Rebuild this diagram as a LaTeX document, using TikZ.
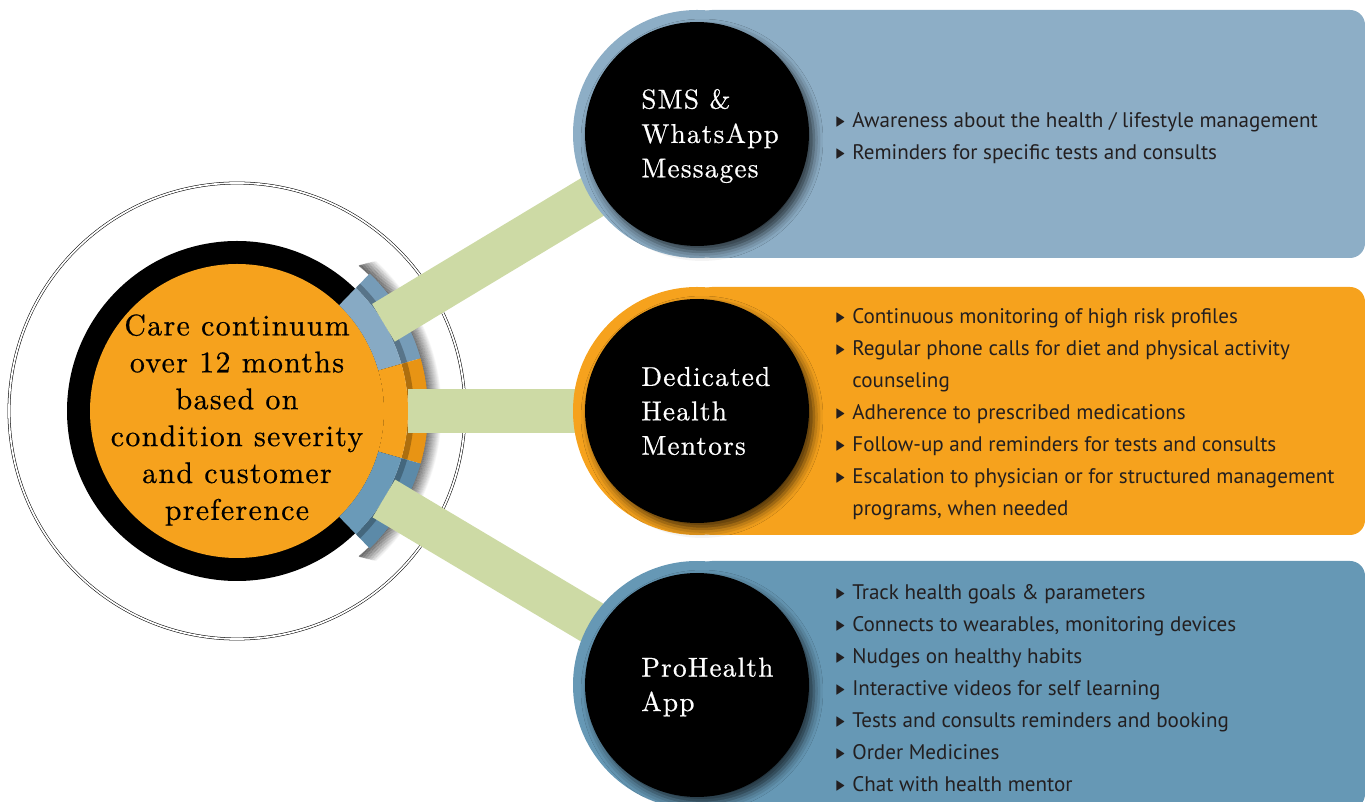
\documentclass[tikz,border=0pt]{standalone}
\usepackage{fontspec}
\usepackage{amssymb}
\usepackage{graphicx}
\usetikzlibrary{shadows.blur}

\newfontfamily\listfont{PT Sans}
\newfontfamily\circfont{lmroman10-regular.otf}[LetterSpace=4.5, FakeBold=0.6]

\definecolor{skyblue}{RGB}{141,174,198}
\definecolor{steelblue}{RGB}{102,152,181}
\definecolor{amber}{RGB}{246,162,29}
\definecolor{ambout}{RGB}{232,148,20}
\definecolor{sage}{RGB}{205,218,165}
\definecolor{ringtop}{RGB}{135,170,196}
\definecolor{ringtopout}{RGB}{118,156,184}
\definecolor{ringbot}{RGB}{106,154,184}
\definecolor{ringbotout}{RGB}{92,138,168}
\definecolor{listtext}{RGB}{35,31,32}

\newcommand{\itm}[1]{\makebox[0.34cm][l]{\raisebox{0.05ex}{\scalebox{0.62}[0.85]{$\blacktriangleright$}}}#1}
\newcommand{\cnt}[1]{\hspace*{0.34cm}#1}

\tikzset{
  bubble/.style={circle, fill=black, minimum size=4.48cm, inner sep=0pt,
    blur shadow={shadow xshift=0.1cm, shadow yshift=-0.12cm, shadow blur radius=0.18cm, shadow opacity=70}},
  bubbletext/.style={text=white, align=left, anchor=west, inner sep=0pt,
    font=\circfont\fontsize{15.5}{19.6}\selectfont},
  itemlist/.style={text=listtext, align=left, anchor=north west, inner sep=0pt,
    font=\listfont\fontsize{12}{18.2}\selectfont},
  bar/.style={sage, line width=0.88cm, shorten <=3.42cm}
}

\begin{document}
\begin{tikzpicture}[x=0.02cm, y=0.02cm]
    \useasboundingbox (0,0) rectangle (1365,801);

    % Centres
    \coordinate (cc) at (237,390);
    \coordinate (sms-c) at (697,667);
    \coordinate (hm-c) at (697,390);
    \coordinate (app-c) at (697,116);

    % Central disc
    \draw[double, double distance=0.035cm, line width=0.3pt] (cc) circle[radius=228];
    \fill[black] (cc) circle[radius=170];
    \fill[amber] (cc) circle[radius=147];

    % Ring segments on the right of the disc
    \begin{scope}[shift={(237,390)}]
        \foreach \i [evaluate=\i as \op using 0.5*(1-\i/15)] in {0,...,14}
            \draw[black, opacity=\op, line width=0.024cm] (-50+\i*0.2:190+\i) arc[start angle=-50+\i*0.2, end angle=50-\i*0.2, radius=190+\i];
        \foreach \a/\b/\cin/\cout in {16/46/ringtop/ringtopout, -16/16/amber/ambout, -46/-16/ringbot/ringbotout} {
            \fill[\cout] (\a:171) arc[start angle=\a, end angle=\b, radius=171]
                -- (\b:191) arc[start angle=\b, end angle=\a, radius=191] -- cycle;
            \fill[black, opacity=0.25] (\a:171) arc[start angle=\a, end angle=\b, radius=171]
                -- (\b:177) arc[start angle=\b, end angle=\a, radius=177] -- cycle;
            \fill[\cin] (\a:147) arc[start angle=\a, end angle=\b, radius=147]
                -- (\b:171) arc[start angle=\b, end angle=\a, radius=171] -- cycle;
        }
    \end{scope}

    % Connecting bars
    \draw[bar] (cc) -- (sms-c);
    \draw[bar] (cc) -- (hm-c);
    \draw[bar] (cc) -- (app-c);

    % Panels
    \fill[skyblue, rounded corners=0.3cm] (697,543) rectangle (1365,791);
    \fill[skyblue] (sms-c) circle[radius=124];
    \fill[amber, rounded corners=0.3cm] (697,266) rectangle (1365,514);
    \fill[amber] (hm-c) circle[radius=124];
    \fill[steelblue, rounded corners=0.3cm] (697,-8) rectangle (1365,240);
    \fill[steelblue] (app-c) circle[radius=124];

    % Black bubbles
    \node[bubble] (sms) at (sms-c) {};
    \node[bubble] (hm) at (hm-c) {};
    \node[bubble] (app) at (app-c) {};

    % Labels
    \node[align=center, inner sep=0pt, font=\circfont\fontsize{17}{21}\selectfont] (cc-lbl) at (237,381)
        {Care continuum\\over 12 months\\based on\\condition severity\\and customer\\preference};
    \node[bubbletext] (sms-lbl) at (641,665) {SMS \&\\WhatsApp\\Messages};
    \node[bubbletext] (hm-lbl) at (641,390) {Dedicated\\Health\\Mentors};
    \node[bubbletext] (app-lbl) at (641,114) {ProHealth\\App};

    % Lists
    \node[itemlist] (sms-list) at (835,689)
        {\itm{Awareness about the health / lifestyle management}\\
         \itm{Reminders for specific tests and consults}};
    \node[itemlist] (hm-list) at (835,493)
        {\itm{Continuous monitoring of high risk profiles}\\
         \itm{Regular phone calls for diet and physical activity}\\
         \cnt{counseling}\\
         \itm{Adherence to prescribed medications}\\
         \itm{Follow-up and reminders for tests and consults}\\
         \itm{Escalation to physician or for structured management}\\
         \cnt{programs, when needed}};
    \node[itemlist] (app-list) at (835,217)
        {\itm{Track health goals \& parameters}\\
         \itm{Connects to wearables, monitoring devices}\\
         \itm{Nudges on healthy habits}\\
         \itm{Interactive videos for self learning}\\
         \itm{Tests and consults reminders and booking}\\
         \itm{Order Medicines}\\
         \itm{Chat with health mentor}};
\end{tikzpicture}
\end{document}
